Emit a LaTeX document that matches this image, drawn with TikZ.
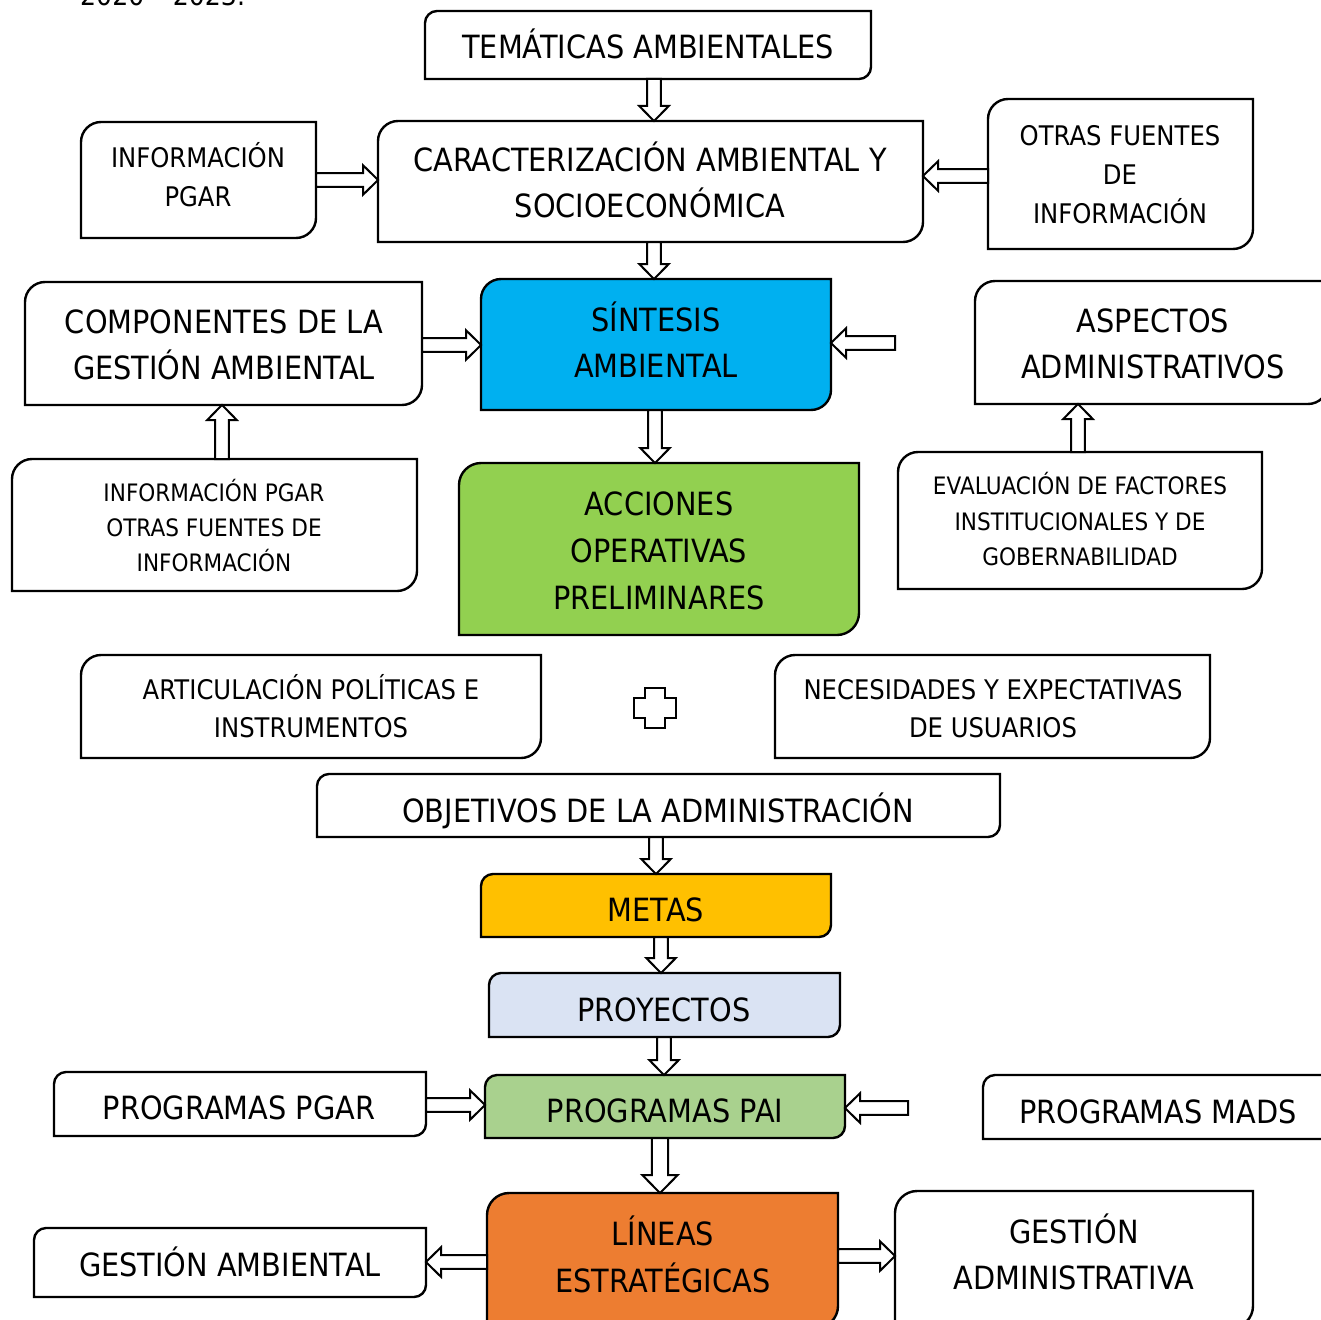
\documentclass[tikz,border=0pt]{standalone}
\usepackage{fontspec}
\setmainfont{DejaVu Sans}[FakeStretch=0.9]
\usetikzlibrary{calc,fit}
\definecolor{cSin}{HTML}{00B0F0}
\definecolor{cAcc}{HTML}{92D050}
\definecolor{cMet}{HTML}{FFC000}
\definecolor{cPro}{HTML}{DAE3F3}
\definecolor{cPai}{HTML}{A9D18E}
\definecolor{cLin}{HTML}{ED7D31}
\tikzset{
  boxline/.style={draw=black, line width=2.4pt, line join=miter},
  barrow/.style={draw=black, fill=white, line width=2pt, line join=miter},
}
% diagonal-rounded box: [fill]{name}{x1}{y1}{x2}{y2}{radius}
\newcommand\dbox[7][white]{%
  \coordinate (#2-tl) at (#3,#4);
  \coordinate (#2-br) at (#5,#6);
  \filldraw[boxline, fill=#1] (#3,#6) -- (#3,#4+#7)
    .. controls (#3,#4+0.45*#7) and (#3+0.45*#7,#4) .. (#3+#7,#4)
    -- (#5,#4) -- (#5,#6-#7)
    .. controls (#5,#6-0.45*#7) and (#5-0.45*#7,#6) .. (#5-#7,#6) -- cycle;
  \node[fit=(#2-tl)(#2-br), inner sep=0pt, outer sep=0pt] (#2) {};
}
% one text line centred on its capitals: {name}{size}{x}{y}{text}
\newcommand\tline[5]{%
  \pgfmathsetmacro\capht{0.729*#2}%
  \node[inner sep=0pt, font=\fontsize{#2}{#2}\selectfont, text height=\capht pt, text depth=0pt] (#1) at (#3,#4) {#5};}
% block arrow from #2 to #3; #1 = scale of its width
\newcommand\barr[3][1]{%
  \coordinate (ba) at #2; \coordinate (bb) at #3;
  \pgfmathsetmacro\bsw{6.8*#1}\pgfmathsetmacro\bhw{14.8*#1}\pgfmathsetmacro\bhl{15*#1}%
  \coordinate (bc) at ($(bb)!\bhl pt!(ba)$);
  \draw[barrow] ($(ba)!\bsw pt!90:(bb)$) -- ($(bc)!\bsw pt!90:(bb)$) -- ($(bc)!\bhw pt!90:(bb)$) -- (bb)
    -- ($(bc)!\bhw pt!-90:(bb)$) -- ($(bc)!\bsw pt!-90:(bb)$) -- ($(ba)!\bsw pt!-90:(bb)$) -- cycle;}
\begin{document}
\begin{tikzpicture}[x=1pt, y=-1pt]
\useasboundingbox (0,0) rectangle (1321,1319);
\fill[white] (0,0) rectangle (1321,1319);

\node[anchor=base west, inner sep=0pt, font=\fontsize{28}{28}\selectfont] (yr) at (80,6) {2020 – 2023.};

% boxes
\dbox{tem}{425}{11}{871}{79}{12}
\dbox{ipg}{81}{122}{316}{238}{20}
\dbox{car}{378}{121}{923}{242}{20}
\dbox{otr}{988}{99}{1253}{249}{20}
\dbox{com}{25}{282}{422}{405}{20}
\dbox[cSin]{sin}{481}{279}{831}{410}{20}
\dbox{asp}{975}{281}{1328}{404}{20}
\dbox{ipo}{12}{459}{417}{591}{20}
\dbox[cAcc]{acc}{459}{463}{859}{635}{22}
\dbox{eva}{898}{452}{1262}{589}{20}
\dbox{art}{81}{655}{541}{758}{20}
\dbox{nec}{775}{655}{1210}{758}{20}
\dbox{obj}{317}{774}{1000}{837}{12}
\dbox[cMet]{met}{481}{874}{831}{937}{12}
\dbox[cPro]{pro}{489}{973}{840}{1037}{12}
\dbox{pgr}{54}{1072}{426}{1136}{12}
\dbox[cPai]{pai}{485}{1075}{845}{1138}{12}
\dbox{mad}{983}{1075}{1335}{1139}{12}
\dbox[cLin]{lin}{487}{1193}{838}{1328}{22}
\dbox{gam}{34}{1228}{426}{1297}{12}
\dbox{gad}{895}{1191}{1253}{1328}{22}

% plus sign
\draw[boxline, fill=white] (645,688) -- (665,688) -- (665,698) -- (676,698) -- (676,718) -- (665,718)
  -- (665,728) -- (645,728) -- (645,718) -- (634,718) -- (634,698) -- (645,698) -- cycle;

% texts
\tline{tem1}{32}{648}{47}{TEMÁTICAS AMBIENTALES}
\tline{ipg1}{27}{198}{158}{INFORMACIÓN}
\tline{ipg2}{27}{198}{197}{PGAR}
\tline{car1}{32}{650}{160}{CARACTERIZACIÓN AMBIENTAL Y}
\tline{car2}{32}{650}{206}{SOCIOECONÓMICA}
\tline{otr1}{27}{1120}{136}{OTRAS FUENTES}
\tline{otr2}{27}{1120}{175}{DE}
\tline{otr3}{27}{1120}{214}{INFORMACIÓN}
\tline{com1}{32}{224}{322}{COMPONENTES DE LA}
\tline{com2}{32}{224}{368}{GESTIÓN AMBIENTAL}
\tline{sin1}{32}{656}{320}{SÍNTESIS}
\tline{sin2}{32}{656}{366}{AMBIENTAL}
\tline{asp1}{32}{1153}{321}{ASPECTOS}
\tline{asp2}{32}{1153}{367}{ADMINISTRATIVOS}
\tline{ipo1}{24}{214}{493}{INFORMACIÓN PGAR}
\tline{ipo2}{24}{214}{528}{OTRAS FUENTES DE}
\tline{ipo3}{24}{214}{563}{INFORMACIÓN}
\tline{acc1}{32}{659}{504}{ACCIONES}
\tline{acc2}{32}{659}{551}{OPERATIVAS}
\tline{acc3}{32}{659}{598}{PRELIMINARES}
\tline{eva1}{24}{1080}{486}{EVALUACIÓN DE FACTORES}
\tline{eva2}{24}{1080}{522}{INSTITUCIONALES Y DE}
\tline{eva3}{24}{1080}{557}{GOBERNABILIDAD}
\tline{art1}{27}{311}{690}{ARTICULACIÓN POLÍTICAS E}
\tline{art2}{27}{311}{728}{INSTRUMENTOS}
\tline{nec1}{27}{993}{690}{NECESIDADES Y EXPECTATIVAS}
\tline{nec2}{27}{993}{728}{DE USUARIOS}
\tline{obj1}{32}{658}{811}{OBJETIVOS DE LA ADMINISTRACIÓN}
\tline{met1}{32}{656}{910}{METAS}
\tline{pro1}{32}{664}{1010}{PROYECTOS}
\tline{pgr1}{32}{239}{1108}{PROGRAMAS PGAR}
\tline{pai1}{32}{665}{1111}{PROGRAMAS PAI}
\tline{mad1}{32}{1158}{1112}{PROGRAMAS MADS}
\tline{lin1}{32}{663}{1234}{LÍNEAS}
\tline{lin2}{32}{663}{1281}{ESTRATÉGICAS}
\tline{gam1}{32}{230}{1265}{GESTIÓN AMBIENTAL}
\tline{gad1}{32}{1074}{1232}{GESTIÓN}
\tline{gad2}{32}{1074}{1278}{ADMINISTRATIVA}

% free arrow tails
\coordinate (sfree) at (895,343);
\coordinate (pfree) at (908,1108);

% arrows
\barr{(654,0 |- tem.south)}{(654,0 |- car.north)}
\barr{(ipg.east |- 0,180)}{(car.west |- 0,180)}
\barr{(otr.west |- 0,176)}{(car.east |- 0,176)}
\barr{(654,0 |- car.south)}{(654,0 |- sin.north)}
\barr{(com.east |- 0,345)}{(sin.west |- 0,345)}
\barr{(sfree)}{(sin.east |- sfree)}
\barr{(222,0 |- ipo.north)}{(222,0 |- com.south)}
\barr{(655,0 |- sin.south)}{(655,0 |- acc.north)}
\barr{(1078,0 |- eva.north)}{(1078,0 |- asp.south)}
\barr{(656,0 |- obj.south)}{(656,0 |- met.north)}
\barr{(661,0 |- met.south)}{(661,0 |- pro.north)}
\barr{(664,0 |- pro.south)}{(664,0 |- pai.north)}
\barr{(pgr.east |- 0,1105)}{(pai.west |- 0,1105)}
\barr{(pfree)}{(pai.east |- pfree)}
\barr[1.2]{(660,0 |- pai.south)}{(660,0 |- lin.north)}
\barr{(lin.west |- 0,1262)}{(gam.east |- 0,1262)}
\barr{(lin.east |- 0,1256)}{(gad.west |- 0,1256)}
\end{tikzpicture}
\end{document}
